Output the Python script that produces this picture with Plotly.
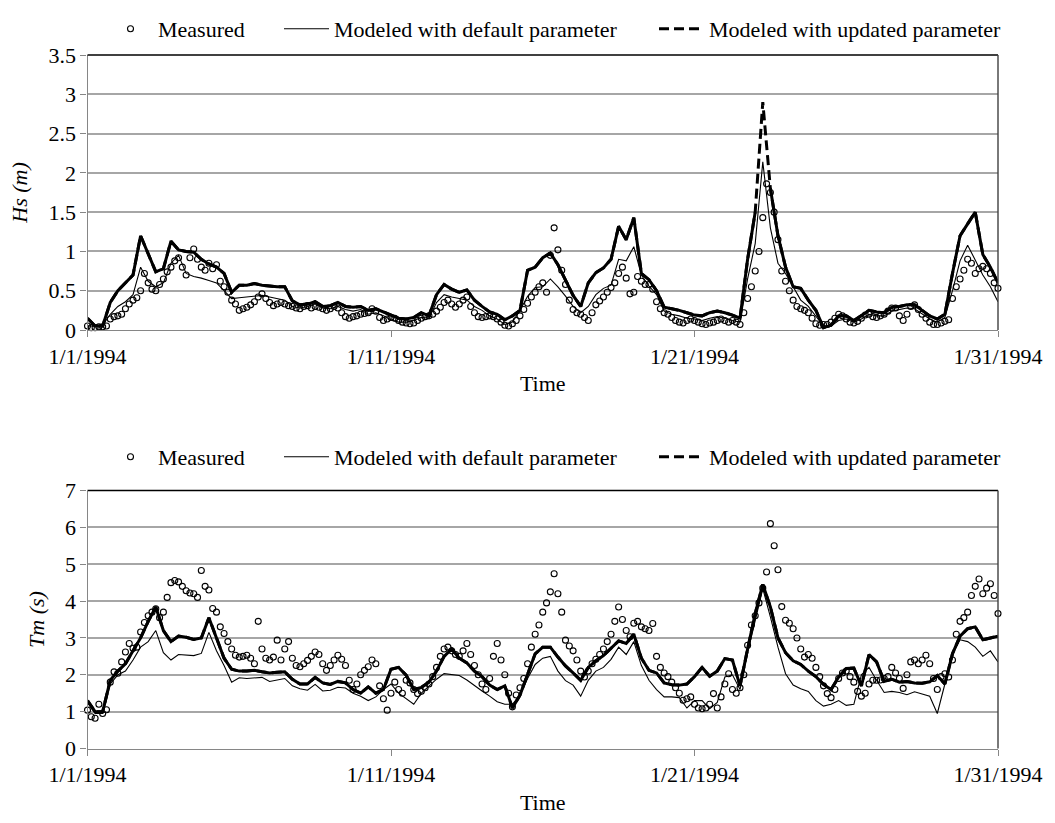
import numpy as np
import pandas as pd
import plotly.graph_objects as go

START = pd.Timestamp("1994-01-01")
END = pd.Timestamp("1994-01-31")

# ---------------- Significant wave height Hs (m) ----------------
# measured: 3-hourly (8 values per day)
hs_measured = [
    0.05, 0.03, 0.03, 0.04, 0.04, 0.05, 0.14, 0.17,
    0.18, 0.20, 0.27, 0.33, 0.38, 0.41, 0.50, 0.72,
    0.60, 0.52, 0.50, 0.58, 0.65, 0.74, 0.80, 0.88,
    0.92, 0.80, 0.70, 0.92, 1.03, 0.90, 0.80, 0.76,
    0.85, 0.78, 0.83, 0.62, 0.55, 0.48, 0.38, 0.33,
    0.25, 0.27, 0.29, 0.32, 0.36, 0.42, 0.46, 0.40,
    0.35, 0.31, 0.33, 0.35, 0.33, 0.31, 0.30, 0.28,
    0.27, 0.30, 0.31, 0.28, 0.30, 0.29, 0.27, 0.25,
    0.27, 0.30, 0.28, 0.22, 0.17, 0.15, 0.17, 0.18,
    0.20, 0.21, 0.22, 0.27, 0.24, 0.16, 0.12, 0.14,
    0.16, 0.15, 0.12, 0.10, 0.09, 0.08, 0.09, 0.12,
    0.15, 0.17, 0.18, 0.20, 0.24, 0.29, 0.35, 0.38,
    0.33, 0.29, 0.33, 0.38, 0.42, 0.30, 0.22, 0.17,
    0.16, 0.17, 0.18, 0.17, 0.14, 0.10, 0.06, 0.05,
    0.08, 0.12, 0.18, 0.26, 0.34, 0.42, 0.48, 0.55,
    0.60, 0.48, 0.95, 1.30, 1.02, 0.76, 0.58, 0.38,
    0.26, 0.22, 0.20, 0.16, 0.12, 0.22, 0.32, 0.37,
    0.42, 0.48, 0.54, 0.60, 0.72, 0.80, 0.66, 0.46,
    0.48, 0.68, 0.62, 0.58, 0.58, 0.52, 0.36, 0.27,
    0.22, 0.20, 0.16, 0.12, 0.10, 0.09, 0.12, 0.14,
    0.12, 0.10, 0.08, 0.07, 0.09, 0.10, 0.12, 0.14,
    0.12, 0.10, 0.12, 0.10, 0.07, 0.22, 0.40, 0.55,
    0.75, 1.00, 1.43, 1.86, 1.75, 1.50, 1.15, 0.75,
    0.62, 0.50, 0.38, 0.30, 0.27, 0.25, 0.22, 0.15,
    0.08, 0.06, 0.07, 0.07, 0.10, 0.15, 0.20, 0.18,
    0.14, 0.10, 0.09, 0.11, 0.15, 0.19, 0.20, 0.17,
    0.16, 0.18, 0.20, 0.24, 0.28, 0.28, 0.18, 0.12,
    0.20, 0.30, 0.32, 0.26, 0.20, 0.15, 0.10, 0.07,
    0.07, 0.09, 0.11, 0.13, 0.40, 0.55, 0.65, 0.76,
    0.90, 0.85, 0.72, 0.78, 0.81, 0.78, 0.72, 0.60,
    0.53,
]
# modeled: 6-hourly (4 values per day)
hs_default = [
    0.05, 0.05, 0.06, 0.20,
    0.30, 0.36, 0.45, 0.80,
    0.62, 0.55, 0.60, 0.85,
    0.95, 0.72, 0.68, 0.66,
    0.63, 0.60, 0.50, 0.40,
    0.41, 0.42, 0.43, 0.44,
    0.42, 0.40, 0.38, 0.30,
    0.28, 0.30, 0.33, 0.28,
    0.27, 0.30, 0.26, 0.24,
    0.26, 0.20, 0.22, 0.18,
    0.13, 0.10, 0.10, 0.12,
    0.16, 0.15, 0.35, 0.45,
    0.42, 0.40, 0.38, 0.30,
    0.25, 0.18, 0.14, 0.07,
    0.10, 0.25, 0.43, 0.54,
    0.55, 0.65, 0.55, 0.43,
    0.30, 0.22, 0.30, 0.45,
    0.53, 0.57, 0.90, 0.88,
    1.06, 0.70, 0.56, 0.45,
    0.24, 0.20, 0.18, 0.15,
    0.14, 0.12, 0.15, 0.17,
    0.15, 0.12, 0.10, 0.65,
    1.10, 2.14, 1.30, 0.85,
    0.72, 0.55, 0.38, 0.30,
    0.17, 0.05, 0.05, 0.12,
    0.14, 0.10, 0.14, 0.20,
    0.18, 0.18, 0.24, 0.26,
    0.28, 0.27, 0.20, 0.14,
    0.10, 0.16, 0.50, 0.88,
    1.08, 0.90, 0.70, 0.55,
    0.36,
]
hs_updated = [
    0.15, 0.05, 0.05, 0.35,
    0.50, 0.60, 0.70, 1.20,
    0.98, 0.74, 0.78, 1.13,
    1.02, 1.00, 0.99, 0.90,
    0.84, 0.80, 0.72, 0.48,
    0.57, 0.57, 0.59, 0.57,
    0.56, 0.55, 0.55, 0.37,
    0.32, 0.33, 0.36, 0.30,
    0.31, 0.35, 0.30, 0.29,
    0.30, 0.25, 0.27, 0.23,
    0.20, 0.15, 0.14, 0.16,
    0.22, 0.18, 0.45, 0.58,
    0.52, 0.48, 0.51, 0.38,
    0.30, 0.23, 0.20, 0.13,
    0.18, 0.25, 0.76, 0.80,
    0.92, 0.98, 0.83, 0.63,
    0.44, 0.30, 0.60, 0.73,
    0.79, 0.90, 1.32, 1.15,
    1.43, 0.72, 0.64, 0.50,
    0.29, 0.27, 0.25, 0.22,
    0.19, 0.18, 0.22, 0.24,
    0.22, 0.19, 0.15, 0.90,
    1.50, 2.90, 1.80, 1.20,
    0.80, 0.55, 0.53, 0.38,
    0.25, 0.03, 0.06, 0.18,
    0.18, 0.12, 0.18, 0.25,
    0.23, 0.22, 0.29, 0.30,
    0.32, 0.32, 0.25, 0.18,
    0.14, 0.20, 0.72, 1.20,
    1.35, 1.50, 0.96, 0.80,
    0.60,
]

# ---------------- Mean wave period Tm (s) ----------------
tm_measured = [
    1.04, 0.86, 0.82, 1.20, 0.95, 1.05, 1.80, 2.08,
    2.04, 2.35, 2.62, 2.85, 2.72, 2.75, 3.16, 3.42,
    3.60, 3.70, 3.79, 3.55, 3.70, 4.10, 4.50, 4.56,
    4.52, 4.40, 4.28, 4.22, 4.20, 4.10, 4.83, 4.40,
    4.30, 3.80, 3.70, 3.30, 3.12, 2.90, 2.70, 2.53,
    2.48, 2.50, 2.53, 2.45, 2.30, 3.45, 2.70, 2.45,
    2.40, 2.48, 2.94, 2.40, 2.70, 2.90, 2.45, 2.25,
    2.22, 2.30, 2.39, 2.50, 2.62, 2.55, 2.30, 2.12,
    2.25, 2.40, 2.53, 2.42, 2.25, 1.85, 1.60, 1.75,
    2.00, 2.12, 2.22, 2.40, 2.30, 1.70, 1.35, 1.04,
    1.50, 1.80, 1.60, 1.50, 1.85, 1.78, 1.60, 1.49,
    1.55, 1.65, 1.75, 1.95, 2.20, 2.50, 2.70, 2.75,
    2.65, 2.55, 2.50, 2.65, 2.85, 2.55, 2.25, 2.00,
    1.75, 1.60, 1.90, 2.50, 2.85, 2.40, 2.00, 1.50,
    1.13, 1.45, 1.65, 1.90, 2.30, 2.75, 3.10, 3.35,
    3.70, 3.95, 4.25, 4.74, 4.20, 3.70, 2.94, 2.78,
    2.65, 2.40, 2.10, 1.94, 2.10, 2.30, 2.42, 2.55,
    2.70, 2.90, 3.10, 3.45, 3.84, 3.50, 3.20, 3.03,
    3.40, 3.45, 3.30, 3.25, 3.20, 3.39, 2.50, 2.20,
    2.05, 1.95, 1.80, 1.65, 1.50, 1.31, 1.35, 1.40,
    1.20, 1.10, 1.08, 1.10, 1.20, 1.49, 1.10, 1.40,
    1.75, 2.03, 1.60, 1.50, 1.65, 2.00, 2.80, 3.35,
    3.60, 3.95, 4.35, 4.79, 6.10, 5.50, 4.85, 3.85,
    3.48, 3.40, 3.25, 3.00, 2.70, 2.48, 2.55, 2.45,
    2.20, 1.95, 1.70, 1.49, 1.38, 1.60, 1.90, 2.05,
    2.10, 1.95, 1.80, 1.55, 1.42, 1.50, 1.75, 1.85,
    1.85, 1.86, 1.90, 1.95, 2.20, 2.05, 1.90, 1.63,
    2.00, 2.35, 2.40, 2.30, 2.40, 2.53, 2.30, 1.90,
    1.60, 1.95, 2.03, 1.94, 2.40, 3.10, 3.45, 3.55,
    3.70, 4.15, 4.40, 4.60, 4.20, 4.35, 4.47, 4.15,
    3.66,
]
tm_default = [
    1.25, 0.95, 0.95, 1.75,
    2.00, 2.10, 2.40, 2.75,
    2.90, 3.20, 2.60, 2.40,
    2.55, 2.53, 2.52, 2.58,
    3.15, 2.65, 2.25, 1.80,
    1.92, 1.90, 1.92, 1.93,
    1.82, 1.86, 1.90, 1.70,
    1.62, 1.58, 1.74, 1.56,
    1.58, 1.66, 1.64, 1.50,
    1.42, 1.30, 1.40, 1.60,
    1.75, 1.50, 1.35, 1.20,
    1.50, 1.70, 1.88, 2.03,
    2.01, 1.98, 1.86, 1.70,
    1.56, 1.42, 1.27, 1.20,
    1.20, 1.45, 1.90, 2.28,
    2.45, 2.50, 2.10, 1.84,
    1.72, 1.42, 1.85, 2.10,
    2.20, 2.42, 2.75, 2.55,
    2.90, 2.25, 1.85, 1.60,
    1.40, 1.40, 1.38, 1.10,
    1.30, 1.30, 1.08, 1.25,
    1.94, 2.00, 1.60, 2.60,
    3.45, 4.34, 3.57, 2.75,
    2.03, 1.72, 1.62, 1.55,
    1.30, 1.15, 1.20, 1.30,
    1.17, 1.20, 2.00, 2.20,
    1.85, 1.52, 1.55, 1.52,
    1.46, 1.54, 1.48, 1.42,
    0.95, 1.75, 2.55, 2.95,
    2.90, 2.75, 2.50, 2.65,
    2.35,
]
tm_updated = [
    1.30, 1.00, 1.00, 1.85,
    2.10, 2.30, 2.65, 3.00,
    3.45, 3.84, 3.20, 2.90,
    3.05, 3.02, 2.96, 3.00,
    3.55, 3.00, 2.45, 2.15,
    2.10, 2.10, 2.12, 2.08,
    2.05, 2.07, 2.08, 1.88,
    1.75, 1.75, 1.93, 1.78,
    1.74, 1.82, 1.78, 1.60,
    1.50, 1.67, 1.50, 1.60,
    2.15, 2.20, 1.99, 1.60,
    1.66, 1.80, 2.10, 2.50,
    2.70, 2.45, 2.32, 2.10,
    1.95, 1.72, 1.60, 1.70,
    1.10, 1.45, 2.00, 2.57,
    2.75, 2.75, 2.48, 2.24,
    2.05, 1.85, 2.20, 2.38,
    2.52, 2.72, 2.92, 2.85,
    3.10, 2.45, 2.12, 2.05,
    1.78, 1.73, 1.72, 1.75,
    1.95, 2.20, 1.96, 2.10,
    2.44, 2.40, 1.70, 2.70,
    3.66, 4.45, 3.84, 3.00,
    2.60, 2.38, 2.28, 2.10,
    1.95, 1.74, 1.60, 1.94,
    2.17, 2.18, 1.70, 2.55,
    2.35, 1.82, 1.88, 1.80,
    1.82, 1.78, 1.77, 1.81,
    1.98, 1.75, 2.57, 3.05,
    3.25, 3.30, 2.95, 3.00,
    3.05,
]

tick_dates = ["1994-01-01", "1994-01-11", "1994-01-21", "1994-01-31"]
tick_labels = ["1/1/1994", "1/11/1994", "1/21/1994", "1/31/1994"]
series_names = ["Measured", "Modeled with default parameter", "Modeled with updated parameter"]

t_meas = START + pd.to_timedelta(np.arange(len(hs_measured)) * 3, unit="h")
t_mod = START + pd.to_timedelta(np.arange(len(hs_default)) * 6, unit="h")

FONT = "Liberation Serif"
FS = 22
W, H = 1055, 823
X0, X1 = 87.5, 998.0
TOP_Y = (55.0, 330.0)
BOT_Y = (490.5, 748.5)


def ydom(a, b):
    return [1 - b / H, 1 - a / H]


fig = go.Figure()


def add_panel(meas, default, updated, xa, ya, leg, solid_limit):
    fig.add_trace(go.Scatter(
        x=t_meas, y=meas, mode="markers", name=series_names[0],
        marker=dict(symbol="circle-open", size=6, color="black", line=dict(width=1.1, color="black")),
        xaxis=xa, yaxis=ya, legend=leg, legendwidth=116, cliponaxis=False))
    fig.add_trace(go.Scatter(
        x=t_mod, y=default, mode="lines", name=series_names[1],
        line=dict(color="black", width=1.1),
        xaxis=xa, yaxis=ya, legend=leg, legendwidth=315))
    # Excel draws each short segment of the dashed series solid; only long
    # segments reveal the dash pattern.
    solid = [v if v < solid_limit else None for v in updated]
    fig.add_trace(go.Scatter(
        x=t_mod, y=solid, mode="lines", showlegend=False, connectgaps=False,
        line=dict(color="black", width=3), xaxis=xa, yaxis=ya, hoverinfo="skip"))
    fig.add_trace(go.Scatter(
        x=t_mod, y=updated, mode="lines", name=series_names[2],
        line=dict(color="black", width=3, dash="10px,5px"),
        xaxis=xa, yaxis=ya, legend=leg))


add_panel(hs_measured, hs_default, hs_updated, "x", "y", "legend", 2.5)
add_panel(tm_measured, tm_default, tm_updated, "x2", "y2", "legend2", 99)

axis_gray = "#868686"
grid_gray = "#a6a6a6"


def xaxis_cfg(anchor):
    return dict(
        domain=[X0 / W, X1 / W], anchor=anchor, type="date",
        range=[START, END], tickvals=tick_dates, ticktext=tick_labels,
        ticks="outside", ticklen=6, tickcolor=axis_gray, tickwidth=1.3,
        showline=True, linecolor=axis_gray, linewidth=1.3,
        showgrid=False, zeroline=False, automargin=False,
        tickfont=dict(family=FONT, size=FS, color="black"),
        title=dict(text="Time", font=dict(family=FONT, size=FS, color="black"), standoff=8),
    )


def yaxis_cfg(anchor, dom, rng, dtick, title):
    return dict(
        domain=dom, anchor=anchor, range=rng, dtick=dtick, tick0=0,
        ticks="outside", ticklen=6, tickcolor=axis_gray, tickwidth=1.3,
        showline=True, linecolor=axis_gray, linewidth=1.3,
        showgrid=True, gridcolor=grid_gray, gridwidth=1.6, zeroline=False,
        automargin=False,
        tickfont=dict(family=FONT, size=FS, color="black"),
        title=dict(text=title, font=dict(family=FONT, size=FS, color="black"), standoff=14),
    )


legend_common = dict(
    orientation="h", xanchor="left", yanchor="middle",
    font=dict(family=FONT, size=FS, color="black"),
    bgcolor="rgba(0,0,0,0)", borderwidth=0, itemwidth=45,
    traceorder="normal",
)

fig.update_layout(
    width=W, height=H,
    margin=dict(l=0, r=0, t=0, b=0, autoexpand=False),
    paper_bgcolor="white", plot_bgcolor="white",
    font=dict(family=FONT, size=FS, color="black"),
    xaxis=xaxis_cfg("y"),
    yaxis=yaxis_cfg("x", ydom(*TOP_Y), [0, 3.5], 0.5, "<i>Hs (m)</i>"),
    xaxis2=xaxis_cfg("y2"),
    yaxis2=yaxis_cfg("x2", ydom(*BOT_Y), [0, 7], 1, "<i>Tm (s)</i>"),
    legend=dict(legend_common, x=103 / W, y=1 - 29 / H),
    legend2=dict(legend_common, x=103 / W, y=1 - 457 / H),
    showlegend=True,
)

# plot-area border (top and right edges) as in the original chart
for xr, yr in (("x domain", "y domain"), ("x2 domain", "y2 domain")):
    fig.add_shape(type="line", xref=xr, yref=yr, x0=0, x1=1, y0=1, y1=1,
                  line=dict(color="black", width=1.4))
    fig.add_shape(type="line", xref=xr, yref=yr, x0=1, x1=1, y0=0, y1=1,
                  line=dict(color="#404040", width=1.4))

fig.write_html("out.html")
